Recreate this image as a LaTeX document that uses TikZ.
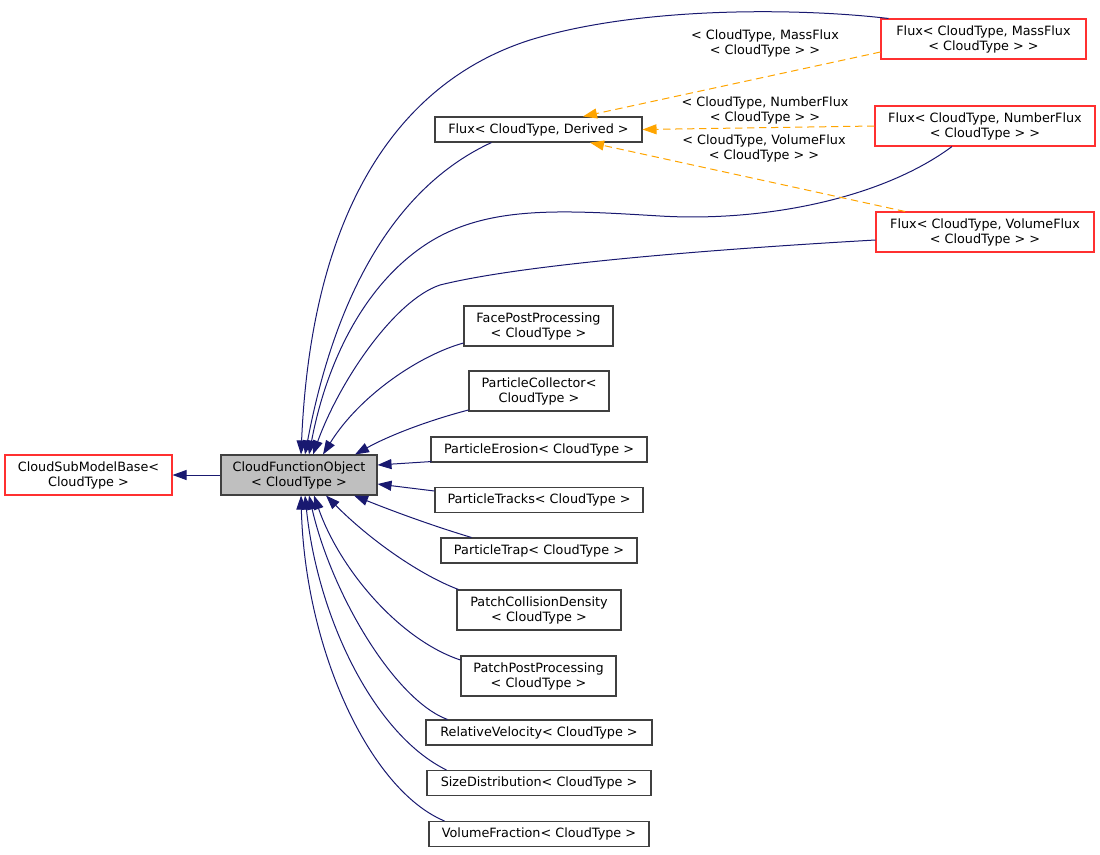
\documentclass[tikz,border=0pt]{standalone}
\usepackage{fontspec}
\setmainfont{DejaVu Sans}
\usetikzlibrary{arrows.meta,calc}
\definecolor{edgeblue}{HTML}{191970}
\definecolor{dashorange}{HTML}{FFA500}
\definecolor{boxgray}{HTML}{BFBFBF}
\definecolor{boxline}{HTML}{404040}
\definecolor{boxred}{HTML}{FF3030}
\begin{document}
\begin{tikzpicture}[x=0.75pt,y=-0.75pt,
  every node/.style={font=\fontsize{9.6pt}{11.25pt}\selectfont},
  cls/.style={draw=boxline, line width=0.8pt, align=center, inner sep=0pt, minimum height=30pt},
  onecls/.style={cls, minimum height=18.75pt},
  redcls/.style={cls, draw=boxred},
  inh/.style={draw=edgeblue, line width=0.75pt, -{Triangle[length=10.5pt,width=7.5pt]}},
  tmpl/.style={draw=dashorange, line width=0.75pt, dash pattern=on 5.5pt off 3.5pt, -{Triangle[length=10.5pt,width=7.5pt]}},
  lbl/.style={align=center, inner sep=0pt}
]
\useasboundingbox (0,0) rectangle (1100,854);

% nodes
\node[redcls, minimum width=125.25pt] (sub) at (88.5,475) {CloudSubModelBase<\\CloudType >};
\node[cls, fill=boxgray, minimum width=117pt] (cfo) at (299,475) {CloudFunctionObject\\< CloudType >};
\node[onecls, minimum width=155.25pt] (fluxd) at (538.5,129.5) {Flux< CloudType, Derived >};
\node[redcls, minimum width=153.75pt] (mass) at (983.5,39) {Flux< CloudType, MassFlux\\< CloudType > >};
\node[redcls, minimum width=165pt] (number) at (985,126) {Flux< CloudType, NumberFlux\\< CloudType > >};
\node[redcls, minimum width=163.5pt] (volume) at (985,232) {Flux< CloudType, VolumeFlux\\< CloudType > >};
\node[cls, minimum width=111.75pt] (face) at (538.5,326) {FacePostProcessing\\< CloudType >};
\node[cls, minimum width=105pt] (collector) at (539,391) {ParticleCollector<\\CloudType >};
\node[onecls, minimum width=162pt] (erosion) at (539,449.5) {ParticleErosion< CloudType >};
\node[onecls, minimum width=156pt] (tracks) at (539,500) {ParticleTracks< CloudType >};
\node[onecls, minimum width=147pt] (trap) at (539,550.5) {ParticleTrap< CloudType >};
\node[cls, minimum width=123pt] (pcd) at (539,610) {PatchCollisionDensity\\< CloudType >};
\node[cls, minimum width=116.25pt] (ppp) at (538.5,676) {PatchPostProcessing\\< CloudType >};
\node[onecls, minimum width=169.5pt] (relvel) at (539,732.5) {RelativeVelocity< CloudType >};
\node[onecls, minimum width=168pt] (sizedist) at (539,783) {SizeDistribution< CloudType >};
\node[onecls, minimum width=165pt] (volfrac) at (539,834) {VolumeFraction< CloudType >};

% edge labels
\node[lbl] (lmass) at (765,43) {< CloudType, MassFlux\\< CloudType > >};
\node[lbl] (lnumber) at (765,110) {< CloudType, NumberFlux\\< CloudType > >};
\node[lbl] (lvolume) at (764,148) {< CloudType, VolumeFlux\\< CloudType > >};

% inheritance edges
\draw[inh] (cfo.west) -- (sub.east);
\draw[inh] ($(mass.north west)+(8,0)$) .. controls (800,8) and (640,6) .. (530,40) .. controls (405,80) and (312,200) .. ($(cfo.north)+(2,0)$);
\draw[inh] ($(fluxd.south)+(-47,0)$) .. controls (410,180) and (340,270) .. ($(cfo.north)+(6,0)$);
\draw[inh] ($(number.south)+(-33,0)$) .. controls (880,200) and (760,222) .. (660,216) .. controls (560,210) and (485,205) .. (425,245) .. controls (365,285) and (327,360) .. ($(cfo.north)+(10,0)$);
\draw[inh] ($(volume.west)+(0,8)$) .. controls (700,250) and (520,265) .. (440,285) .. controls (395,300) and (340,380) .. ($(cfo.north)+(14,0)$);
\draw[inh] ($(face.west)+(0,17)$) .. controls (420,355) and (360,395) .. ($(cfo.north)+(24,0)$);
\draw[inh] ($(collector.west)+(0,19)$) .. controls (430,420) and (390,435) .. ($(cfo.north)+(56,0)$);
\draw[inh] ($(erosion.south west)+(1,-1)$) -- ($(cfo.east)+(0,-10)$);
\draw[inh] ($(tracks.west)+(0,-9)$) -- ($(cfo.east)+(0,9)$);
\draw[inh] ($(trap.north west)+(31,0)$) .. controls (430,525) and (390,510) .. ($(cfo.south)+(55,0)$);
\draw[inh] ($(pcd.north west)+(2,0)$) .. controls (420,575) and (370,540) .. ($(cfo.south)+(27,0)$);
\draw[inh] ($(ppp.west)+(0,-16)$) .. controls (400,640) and (340,570) .. ($(cfo.south)+(15,0)$);
\draw[inh] ($(relvel.north west)+(22,0)$) .. controls (395,700) and (332,595) .. ($(cfo.south)+(10,0)$);
\draw[inh] ($(sizedist.north west)+(20,0)$) .. controls (375,735) and (318,620) .. ($(cfo.south)+(6,0)$);
\draw[inh] ($(volfrac.north west)+(16,0)$) .. controls (370,790) and (305,650) .. ($(cfo.south)+(2,0)$);

% template instance edges
\draw[tmpl] ($(mass.west)+(0,13)$) -- ($(fluxd.north)+(44.5,0)$);
\draw[tmpl] (number.west) -- (fluxd.east);
\draw[tmpl] ($(volume.north)+(-80,0)$) -- ($(fluxd.south)+(51.5,0)$);
\end{tikzpicture}
\end{document}
